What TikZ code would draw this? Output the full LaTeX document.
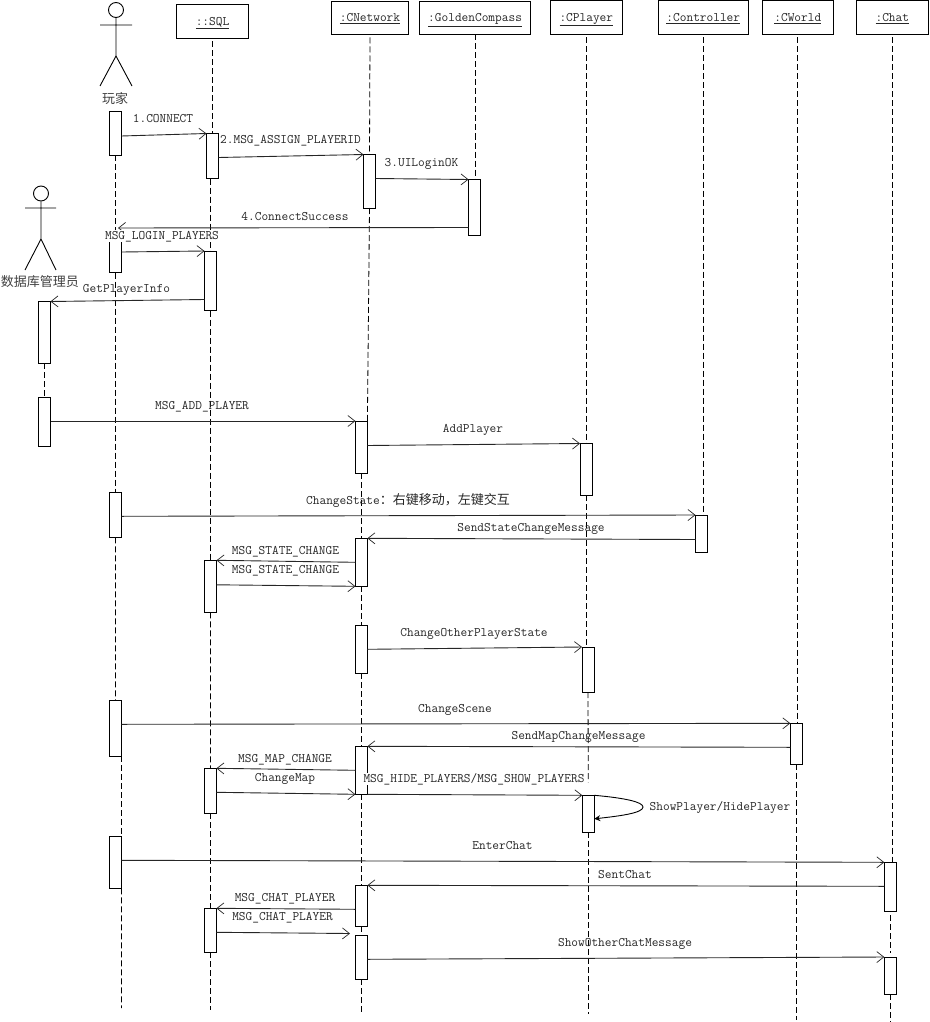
\documentclass[tikz,border=0pt]{standalone}
\usepackage{fontspec}
\usetikzlibrary{arrows.meta}
\newfontfamily\cjk{Noto Sans CJK SC}
\tikzset{
  base/.style={line width=0.9pt,draw=black},
  headbox/.style={base,rectangle,fill=white,inner sep=0pt,outer sep=0pt,anchor=center},
  barbox/.style={base,rectangle,fill=white,inner sep=0pt,outer sep=0pt,minimum width=12pt},
  life/.style={line width=0.8pt,draw=black,dash pattern=on 6pt off 3pt},
  msg/.style={line width=0.9pt,draw=black!85,-{Straight Barb[length=7pt,width=11pt,line width=0.7pt]}},
  selfmsg/.style={line width=0.9pt,draw=black,-{Stealth[length=6pt,width=6pt]}},
  lab/.style={font=\ttfamily\fontsize{13}{14}\selectfont,text=black!85,inner sep=0pt,text height=9.5pt,text depth=2.5pt,yshift=-1pt},
  cover/.style={lab,fill=white,inner xsep=0.5pt,inner ysep=0pt},
  actorlab/.style={font=\cjk\fontsize{13}{14}\selectfont,text=black!75,inner sep=0pt,yshift=-1pt},
}
\newcommand{\headn}[6]{\node[headbox,minimum width={#3pt-#2pt},minimum height={#5pt-#4pt},font=\ttfamily\fontsize{13}{14}\selectfont,text=black!85,text height=10pt,text depth=2.5pt] (#1) at ({(#2+#3)/2},{(#4+#5)/2}) {\underline{#6}};}
\newcommand{\barn}[4]{\node[barbox,minimum height={#4pt-#3pt}] (#1) at ({#2+6},{(#3+#4)/2}) {};}
\newcommand{\msglab}[4]{\node[lab] (#1) at (#2,#3) {#4};}
\begin{document}
\begin{tikzpicture}[x=1pt,y=-1pt]
\useasboundingbox (0,0) rectangle (929,1022);
% heads
\headn{hsql}{176.5}{248.5}{4.5}{38.5}{::SQL}
\headn{hnet}{331.5}{408.5}{1.5}{34.5}{:CNetwork}
\headn{hgold}{419.5}{530.7}{1.5}{34.5}{:GoldenCompass}
\headn{hpl}{550.3}{622.3}{0.5}{34.5}{:CPlayer}
\headn{hctl}{658.3}{748.3}{0.5}{34.5}{:Controller}
\headn{hwld}{762.3}{833.3}{0.5}{34.5}{:CWorld}
\headn{hchat}{856.3}{928.3}{0.5}{34.5}{:Chat}
% actors
\node[circle,base,inner sep=0pt,minimum size=15pt] (a1) at (116,10) {};
\coordinate (a1hip) at (116,56);
\coordinate (a1la) at (100,25); \coordinate (a1ra) at (132,25);
\coordinate (a1ll) at (100,86); \coordinate (a1rl) at (132,86);
\draw[base] (a1.south) -- (a1hip) (a1la) -- (a1ra) (a1ll) -- (a1hip) -- (a1rl);
\node[actorlab] (a1t) at (115,98) {玩家};
\node[circle,base,inner sep=0pt,minimum size=15pt] (a2) at (41,193.5) {};
\coordinate (a2hip) at (41,239);
\coordinate (a2la) at (25,208); \coordinate (a2ra) at (56,208);
\coordinate (a2ll) at (25,270); \coordinate (a2rl) at (56,270);
\draw[base] (a2.south) -- (a2hip) (a2la) -- (a2ra) (a2ll) -- (a2hip) -- (a2rl);
\node[actorlab] (a2t) at (40,281) {数据库管理员};
% activation bars
\barn{u1}{109.5}{111}{155}
\barn{s1}{206.5}{133.5}{178.5}
\barn{n1}{363.5}{154.5}{208}
\barn{g1}{468.5}{179.5}{235.5}
\barn{u2}{109.5}{233}{272.5}
\barn{s2}{204.5}{251}{310.5}
\barn{d1}{38.5}{301.5}{363}
\barn{d2}{38.5}{397.5}{446.5}
\barn{n2}{355.4}{421}{473.3}
\barn{p1}{580}{443.5}{495}
\barn{u3}{109.5}{492.3}{537.3}
\barn{c1}{695.5}{515}{552}
\barn{n3}{355.4}{538.3}{586.3}
\barn{s3}{204.5}{560.3}{612.3}
\barn{n4}{355.4}{625.3}{673.3}
\barn{p2}{582}{647}{692}
\barn{u4}{109.4}{700.3}{756.3}
\barn{w1}{790.3}{723.3}{764.3}
\barn{n5}{355.4}{746.3}{794.3}
\barn{s4}{204.4}{768.3}{813.3}
\barn{p3}{582.3}{795.3}{832.3}
\barn{u5}{109.4}{836.3}{888.3}
\barn{h1}{884.3}{862.3}{911.3}
\barn{n6}{355.4}{885.3}{926.3}
\barn{s5}{204.4}{908.3}{952.3}
\barn{n7}{355.4}{935.3}{979.3}
\barn{h2}{884.3}{957}{994.3}
% free ends
\coordinate (endu) at (121.5,1008);
\coordinate (ends) at (210.4,1010);
\coordinate (endn) at (361.4,1014);
\coordinate (endp) at (588.3,1014);
\coordinate (endw) at (796.3,1020);
\coordinate (endh) at (890.3,1022);
\coordinate (tip4) at (118,228);
\coordinate (tipc) at (350,933.5);
% lifelines
\draw[life] (u1.south) -- (u2.north);
\draw[life] (u2.south) -- (u3.north);
\draw[life] (u3.south) -- (u4.north);
\draw[life] (u4.south east) -- (u5.north east);
\draw[life] (u5.south east) -- (endu);
\draw[life] ([yshift=-3pt]hsql.south) -- (s1.north);
\draw[life] (s2.north |- s1.south) -- (s2.north);
\draw[life] (s2.south) -- (s3.north);
\draw[life] (s3.south) -- (s4.north);
\draw[life] (s4.south) -- (s5.north);
\draw[life] (s5.south) -- (ends);
\draw[life] ([yshift=-3pt]hnet.south) -- (n1.north);
\draw[life] (n1.south) -- (n2.north east);
\draw[life] (n2.south) -- (n3.north);
\draw[life] (n3.south) -- (n4.north);
\draw[life] (n4.south) -- (n5.north);
\draw[life] (n5.south) -- (n6.north);
\draw[life] (n6.south) -- (n7.north);
\draw[life] (n7.south) -- (endn);
\draw[life] (hgold.south) -- (hgold.south |- g1.north);
\draw[life] ([yshift=-3pt]hpl.south) -- (hpl.south |- p1.north);
\draw[life] (p1.south) -- (p1.south |- p2.north);
\draw[life] (p2.south) -- ([yshift=13pt]p3.north);
\draw[life] (p3.south) -- (endp);
\draw[life] ([yshift=-3pt]hctl.south) -- (hctl.south |- c1.north);
\draw[life] ([yshift=-3pt]hwld.south) -- (hwld.south |- w1.north);
\draw[life] (w1.south) -- (endw);
\draw[life] ([yshift=-3pt]hchat.south) -- (hchat.south |- h1.north);
\draw[life] ([yshift=-4pt]h1.south) -- ([yshift=4pt]h2.north);
\draw[life] (h2.south) -- (endh);
\draw[life] (d1.south) -- (d2.north);
% messages
\draw[msg] ([yshift=-25pt]u1.north east) -- (s1.north west);
\draw[msg] ([yshift=-24pt]s1.north east) -- (n1.north west);
\draw[msg] ([yshift=-24pt]n1.north east) -- (g1.north west);
\draw[msg] ([yshift=-48pt]g1.north west) -- (tip4);
\draw[msg] ([yshift=-19pt]u2.north east) -- (s2.north west);
\draw[msg] ([yshift=-48.5pt]s2.north west) -- (d1.north east);
\draw[msg] ([yshift=-23.5pt]d2.north east) -- (n2.north west);
\draw[msg] ([yshift=-24.5pt]n2.north east) -- (p1.north west);
\draw[msg] ([yshift=-24pt]u3.north east) -- (c1.north west);
\draw[msg] ([yshift=-24.5pt]c1.north west) -- (n3.north east);
\draw[msg] ([yshift=-24pt]n3.north west) -- (s3.north east);
\draw[msg] ([yshift=-24.5pt]s3.north east) -- (n3.south west);
\draw[msg] ([yshift=-24pt]n4.north east) -- (p2.north west);
\draw[msg] ([yshift=-24pt]u4.north east) -- (w1.north west);
\draw[msg] ([yshift=-24pt]w1.north west) -- (n5.north east);
\draw[msg] ([yshift=-24pt]n5.north west) -- (s4.north east);
\draw[msg] ([yshift=-24pt]s4.north east) -- (n5.south west);
\draw[msg] (n5.south east) -- (p3.north west);
\draw[selfmsg] (p3.north east) .. controls (625,798) and (643,802) .. (643,807) .. controls (643,813) and (620,816) .. ([yshift=-23.5pt]p3.north east);
\draw[msg] ([yshift=-24pt]u5.north east) -- (h1.north west);
\draw[msg] ([yshift=-24pt]h1.north west) -- (n6.north east);
\draw[msg] ([yshift=-24pt]n6.north west) -- (s5.north east);
\draw[msg] ([yshift=-24pt]s5.north east) -- (tipc);
\draw[msg] ([yshift=-24pt]n7.north east) -- (h2.north west);
% labels
\msglab{l1}{163}{118}{1.CONNECT}
\msglab{l2}{290.5}{139}{2.MSG\_ASSIGN\_PLAYERID}
\msglab{l3}{421.5}{162}{3.UILoginOK}
\msglab{l4}{295}{216}{4.ConnectSuccess}
\node[cover] (l5) at (162,235) {MSG\_LOGIN\_PLAYERS};
\msglab{l6}{126.5}{288}{GetPlayerInfo}
\msglab{l7}{202}{405}{MSG\_ADD\_PLAYER}
\msglab{l8}{473}{428}{AddPlayer}
\msglab{l9}{408}{499.5}{ChangeState{\cjk ：右键移动，左键交互}}
\msglab{l10}{531}{527}{SendStateChangeMessage}
\msglab{l11}{285.5}{550}{MSG\_STATE\_CHANGE}
\msglab{l12}{285.5}{569}{MSG\_STATE\_CHANGE}
\msglab{l13}{474}{632}{ChangeOtherPlayerState}
\msglab{l14}{455}{708}{ChangeScene}
\msglab{l15}{578.5}{735}{SendMapChangeMessage}
\msglab{l16}{285}{758}{MSG\_MAP\_CHANGE}
\msglab{l17}{285}{777}{ChangeMap}
\node[cover] (l18) at (474,778) {MSG\_HIDE\_PLAYERS/MSG\_SHOW\_PLAYERS};
\msglab{l19}{720}{806}{ShowPlayer/HidePlayer}
\msglab{l20}{502.5}{845}{EnterChat}
\msglab{l21}{625}{874}{SentChat}
\msglab{l22}{285}{897}{MSG\_CHAT\_PLAYER}
\msglab{l23}{282.5}{916}{MSG\_CHAT\_PLAYER}
\msglab{l24}{625}{942}{ShowOtherChatMessage}
\end{tikzpicture}
\end{document}
